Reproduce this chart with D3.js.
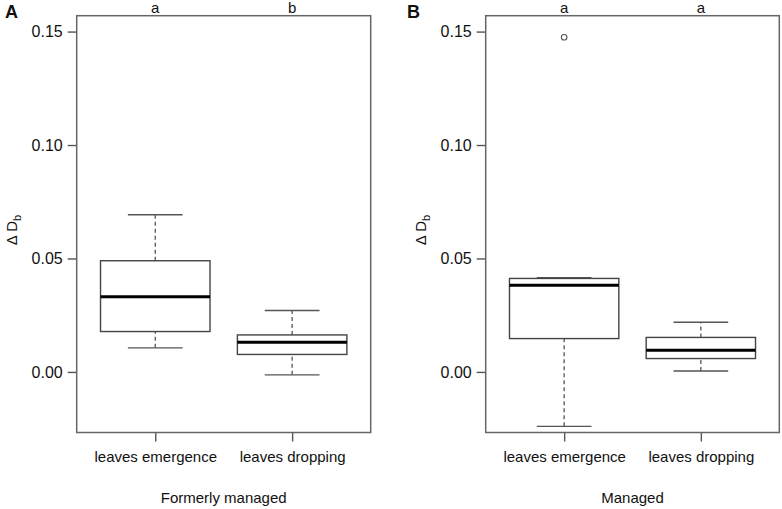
<!DOCTYPE html>
<html lang="en">
    <head>
        <meta charset="utf-8">
        <title>Boxplots</title>
        <style type="text/css">
            body { margin: 0; background: white; }
            .txt { font-family: Arial, "Liberation Sans", Helvetica, sans-serif; fill: #111; }
        </style>
        <script type="text/javascript" src="https://cdn.jsdelivr.net/npm/d3@7"></script>
    </head>
    <body>
        <script type="text/javascript">

var w = 782;
var h = 509;

// data
var categories = ['leaves emergence', 'leaves dropping'];
var yTicks = [0.00, 0.05, 0.10, 0.15];

// [lower whisker, Q1, median, Q3, upper whisker]
var formerlyStats = [
  [0.0106, 0.0178, 0.0331, 0.0490, 0.0693],
  [-0.0013, 0.0077, 0.0131, 0.0163, 0.0271]
];
var managedStats = [
  [-0.0240, 0.0147, 0.0382, 0.0412, 0.0415],
  [0.0004, 0.0059, 0.0096, 0.0152, 0.0219]
];
var formerlyOutliers = [[], []];
var managedOutliers = [[0.1475], []];

var formerlyLetters = ['a', 'b'];
var managedLetters = ['a', 'a'];

var panels = [
  {tag: 'A', title: 'Formerly managed', stats: formerlyStats, out: formerlyOutliers, letters: formerlyLetters, left: 76.7, right: 370.7, tagX: 5},
  {tag: 'B', title: 'Managed', stats: managedStats, out: managedOutliers, letters: managedLetters, left: 485.7, right: 779.3, tagX: 407}
];

var plotTop = 15.7, plotBottom = 432.5;

var svg = d3.select("body")
    .append("svg")
    .attr("width", w)
    .attr("height", h);

var yScale = d3.scaleLinear().domain([-0.0267, 0.157]).range([plotBottom, plotTop]);

panels.forEach(function(p) {
  var xScale = d3.scaleLinear().domain([0.426, 2.574]).range([p.left, p.right]);
  var g = svg.append('g');
  var boxW = xScale(1.4) - xScale(0.6);   // boxwex 0.8
  var capW = boxW / 2;

  // y axis
  var yAxis = d3.axisLeft(yScale).tickValues(yTicks).tickFormat(d3.format('.2f')).tickSize(9).tickPadding(5);
  var ya = g.append('g').attr('transform', 'translate(' + p.left + ',0)').call(yAxis);
  ya.select('.domain').remove();
  ya.selectAll('line').attr('stroke', '#555').attr('stroke-width', 1.4);
  ya.selectAll('text').attr('class', 'txt').attr('font-size', 16).attr('fill', '#111');

  // x axis
  var xAxis = d3.axisBottom(xScale).tickValues([1, 2]).tickFormat(function(d) { return categories[d - 1]; }).tickSize(9).tickPadding(10);
  var xa = g.append('g').attr('transform', 'translate(0,' + plotBottom + ')').call(xAxis);
  xa.select('.domain').remove();
  xa.selectAll('line').attr('stroke', '#555').attr('stroke-width', 1.4);
  xa.selectAll('text').attr('class', 'txt').attr('font-size', 15).attr('fill', '#111');

  // frame
  g.append('rect')
    .attr('x', p.left).attr('y', plotTop)
    .attr('width', p.right - p.left).attr('height', plotBottom - plotTop)
    .attr('fill', 'none').attr('stroke', '#666').attr('stroke-width', 1.5);

  var boxes = g.selectAll('g.box')
    .data(p.stats)
    .enter()
    .append('g').attr('class', 'box');

  // whiskers
  boxes.append('line')
    .attr('x1', function(d, i) { return xScale(i + 1); })
    .attr('x2', function(d, i) { return xScale(i + 1); })
    .attr('y1', function(d) { return yScale(d[0]); })
    .attr('y2', function(d) { return yScale(d[1]); })
    .attr('stroke', '#555').attr('stroke-width', 1.3).attr('stroke-dasharray', '4,3');
  boxes.append('line')
    .attr('x1', function(d, i) { return xScale(i + 1); })
    .attr('x2', function(d, i) { return xScale(i + 1); })
    .attr('y1', function(d) { return yScale(d[3]); })
    .attr('y2', function(d) { return yScale(d[4]); })
    .attr('stroke', '#555').attr('stroke-width', 1.3).attr('stroke-dasharray', '4,3');

  // caps
  [0, 4].forEach(function(k) {
    boxes.append('line')
      .attr('x1', function(d, i) { return xScale(i + 1) - capW / 2; })
      .attr('x2', function(d, i) { return xScale(i + 1) + capW / 2; })
      .attr('y1', function(d) { return yScale(d[k]); })
      .attr('y2', function(d) { return yScale(d[k]); })
      .attr('stroke', '#555').attr('stroke-width', 1.4);
  });

  // box
  boxes.append('rect')
    .attr('x', function(d, i) { return xScale(i + 1) - boxW / 2; })
    .attr('y', function(d) { return yScale(d[3]); })
    .attr('width', boxW)
    .attr('height', function(d) { return yScale(d[1]) - yScale(d[3]); })
    .attr('fill', 'white').attr('stroke', '#444').attr('stroke-width', 1.4);

  // median
  boxes.append('line')
    .attr('x1', function(d, i) { return xScale(i + 1) - boxW / 2; })
    .attr('x2', function(d, i) { return xScale(i + 1) + boxW / 2; })
    .attr('y1', function(d) { return yScale(d[2]); })
    .attr('y2', function(d) { return yScale(d[2]); })
    .attr('stroke', '#000').attr('stroke-width', 3);

  // outliers
  p.out.forEach(function(vals, i) {
    g.selectAll(null)
      .data(vals)
      .enter()
      .append('circle')
      .attr('cx', xScale(i + 1))
      .attr('cy', function(d) { return yScale(d); })
      .attr('r', 2.8)
      .attr('fill', 'none').attr('stroke', '#555').attr('stroke-width', 1.1);
  });

  // significance letters
  g.selectAll('text.letter')
    .data(p.letters)
    .enter()
    .append('text')
    .attr('class', 'txt')
    .attr('x', function(d, i) { return xScale(i + 1); })
    .attr('y', 12.5)
    .attr('text-anchor', 'middle')
    .attr('font-size', 15)
    .text(function(d) { return d; });

  // panel tag
  g.append('text')
    .attr('class', 'txt')
    .attr('x', p.tagX)
    .attr('y', 18)
    .attr('font-size', 18)
    .attr('font-weight', 'bold')
    .text(p.tag);

  // y label
  var yl = g.append('text')
    .attr('class', 'txt')
    .attr('transform', 'translate(' + (p.left - 60) + ',230) rotate(-90)')
    .attr('text-anchor', 'middle')
    .attr('font-size', 15);
  yl.append('tspan').text('\u0394 D');
  yl.append('tspan').attr('font-size', 11).attr('dy', 4).text('b');

  // x title
  g.append('text')
    .attr('class', 'txt')
    .attr('x', (p.left + p.right) / 2)
    .attr('y', 503)
    .attr('text-anchor', 'middle')
    .attr('font-size', 15)
    .text(p.title);
});

        </script>
    </body>
</html>
